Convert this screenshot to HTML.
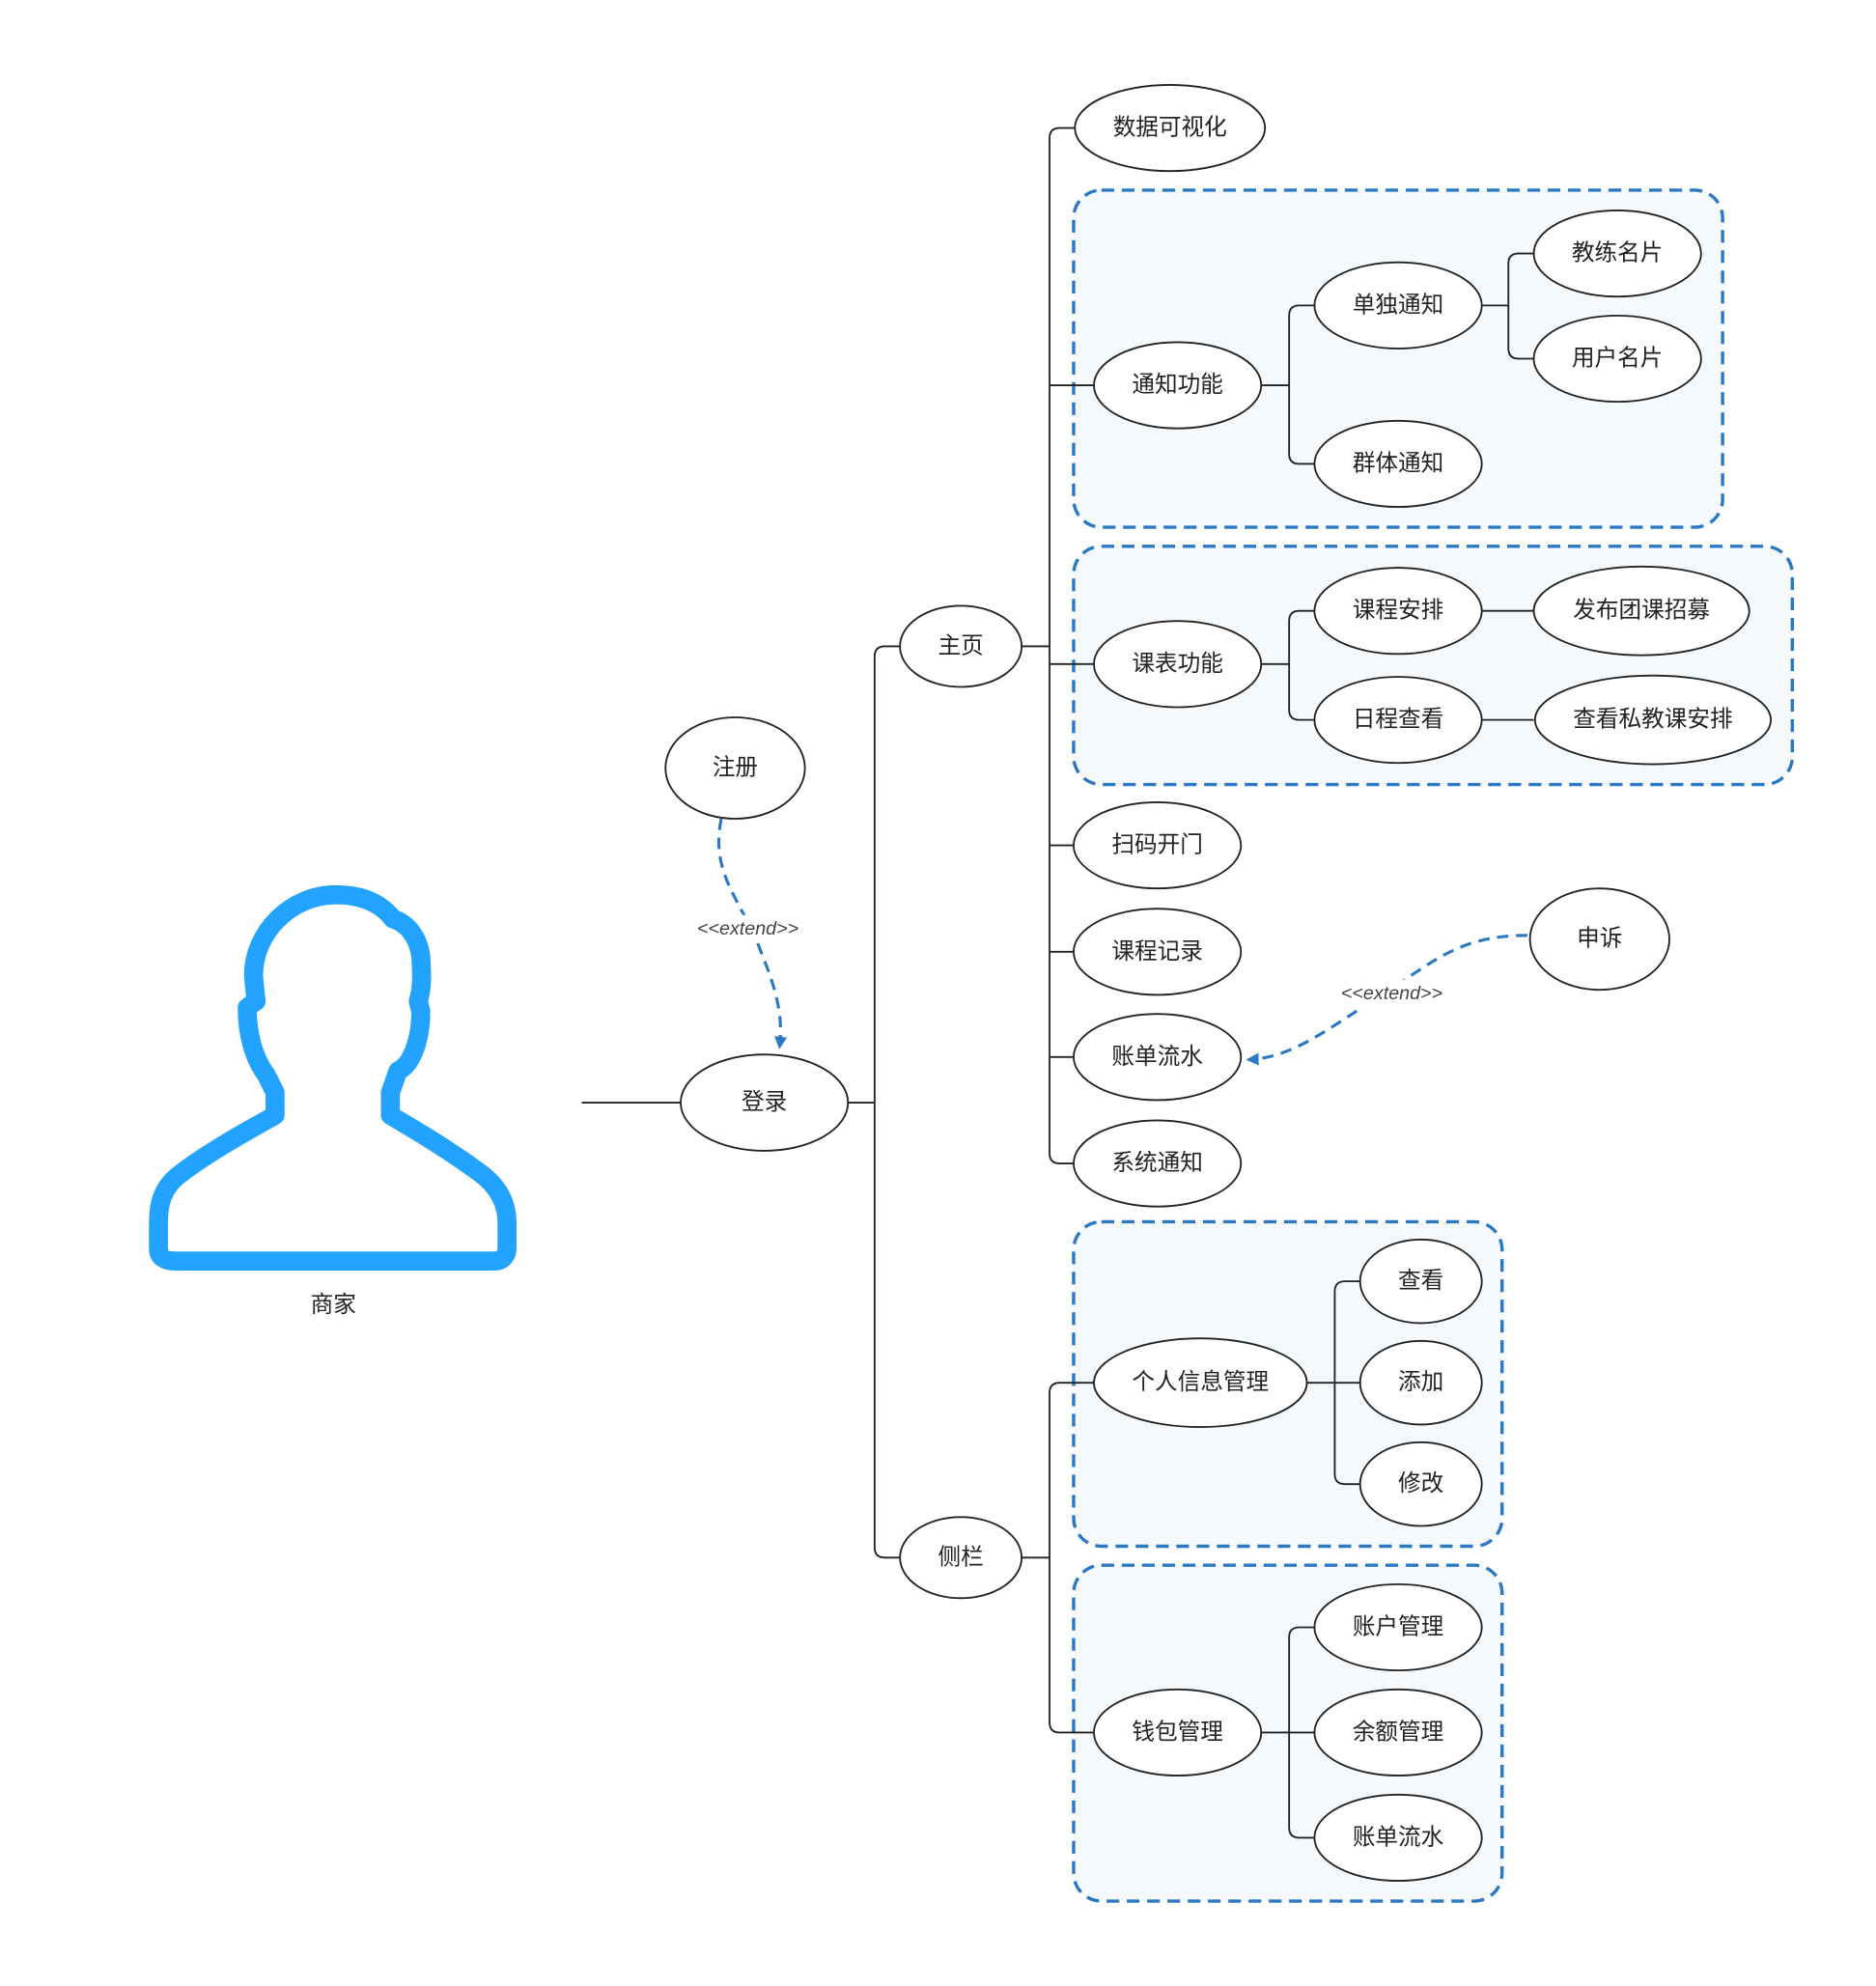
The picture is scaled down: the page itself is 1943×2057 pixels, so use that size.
<!DOCTYPE html>
<html><head><meta charset="utf-8"><style>
html,body{margin:0;padding:0;background:#fff;}
svg{display:block;}
text{font-family:"Liberation Sans","Noto Sans CJK SC",sans-serif;font-size:18px;fill:#222;text-anchor:middle;dominant-baseline:central;}
.e{fill:#fff;stroke:#222;stroke-width:1.4;}
.l{fill:none;stroke:#222;stroke-width:1.4;}
.b{fill:#f5f9fc;stroke:#2b78c5;stroke-width:2.6;stroke-dasharray:10 6;}
.x{fill:none;stroke:#2b78c5;stroke-width:2.4;stroke-dasharray:9 6;}
.it{font-style:italic;font-size:15px;fill:#444;}
</style></head><body>
<svg width="1943" height="2057" viewBox="0 0 1480 1567" preserveAspectRatio="none" xmlns="http://www.w3.org/2000/svg">
<defs><marker id="a" markerWidth="10" markerHeight="10" refX="8" refY="5" orient="auto" markerUnits="userSpaceOnUse"><path d="M0,0 L10,5 L0,10 Z" fill="#2b78c5"/></marker></defs>
<rect class="b" x="847" y="150" width="512" height="266" rx="22"/>
<rect class="b" x="847" y="431" width="567" height="188" rx="22"/>
<rect class="b" x="847" y="964" width="338" height="256" rx="22"/>
<rect class="b" x="847" y="1235" width="338" height="265" rx="22"/>
<path d="M265 706 C230 706 200 735 200 770 L202 790 L195 795 C195 815 200 835 210 848 L217 862 L217 880 C190 895 160 912 140 928 C128 938 125 950 125 965 L125 985 C125 992 130 995 138 995 L390 995 C397 995 400 990 400 985 L400 965 C400 948 392 935 378 925 C355 908 330 893 308 880 L308 862 L314 845 C325 840 332 820 332 798 L330 790 C333 780 333 770 332 755 C330 738 320 728 310 725 C300 712 285 706 265 706 Z" fill="none" stroke="#22a3ff" stroke-width="15" stroke-linejoin="round"/>
<text x="263" y="1030">商家</text>
<path class="l" d="M459 870 H537 M669 870 H690 M710 510 H698 Q690 510 690 518 V1221 Q690 1229 698 1229 H710"/>
<path class="l" d="M806 510 H828 M848 101 H836 Q828 101 828 109 V910 Q828 918 836 918 H848 M828 304 H863 M828 524 H863 M828 667 H848 M828 751 H848 M828 834 H848"/>
<path class="l" d="M995 304 H1017 M1037 241 H1025 Q1017 241 1017 249 V358 Q1017 366 1025 366 H1037"/>
<path class="l" d="M1169 241 H1190 M1210 200 H1198 Q1190 200 1190 208 V275 Q1190 283 1198 283 H1210"/>
<path class="l" d="M995 524 H1017 M1037 482 H1025 Q1017 482 1017 490 V560 Q1017 568 1025 568 H1037 M1169 482 H1210 M1169 568 H1210"/>
<path class="l" d="M806 1229 H828 M863 1091 H836 Q828 1091 828 1099 V1359 Q828 1367 836 1367 H863"/>
<path class="l" d="M1031 1091 H1073 M1073 1011 H1061 Q1053 1011 1053 1019 V1163 Q1053 1171 1061 1171 H1073"/>
<path class="l" d="M995 1367 H1037 M1037 1284 H1025 Q1017 1284 1017 1292 V1442 Q1017 1450 1025 1450 H1037"/>
<path class="x" d="M569 646 C560 690 585 710 600 750 C612 780 618 800 615 826" marker-end="url(#a)"/>
<rect x="540" y="722" width="100" height="22" fill="#fff"/>
<text class="it" x="590" y="733">&lt;&lt;extend&gt;&gt;</text>
<path class="x" d="M1205 738 C1150 738 1130 760 1090 785 C1050 810 1020 835 985 836" marker-end="url(#a)"/>
<rect x="1048" y="773" width="100" height="22" fill="#fff"/>
<text class="it" x="1098" y="784">&lt;&lt;extend&gt;&gt;</text>
<ellipse class="e" cx="923" cy="101" rx="75" ry="34"/><text x="923" y="101">数据可视化</text>
<ellipse class="e" cx="929" cy="304" rx="66" ry="34"/><text x="929" y="304">通知功能</text>
<ellipse class="e" cx="1103" cy="241" rx="66" ry="34"/><text x="1103" y="241">单独通知</text>
<ellipse class="e" cx="1103" cy="366" rx="66" ry="34"/><text x="1103" y="366">群体通知</text>
<ellipse class="e" cx="1276" cy="200" rx="66" ry="34"/><text x="1276" y="200">教练名片</text>
<ellipse class="e" cx="1276" cy="283" rx="66" ry="34"/><text x="1276" y="283">用户名片</text>
<ellipse class="e" cx="929" cy="524" rx="66" ry="34"/><text x="929" y="524">课表功能</text>
<ellipse class="e" cx="1103" cy="482" rx="66" ry="34"/><text x="1103" y="482">课程安排</text>
<ellipse class="e" cx="1103" cy="568" rx="66" ry="34"/><text x="1103" y="568">日程查看</text>
<ellipse class="e" cx="1295" cy="482" rx="85" ry="35"/><text x="1295" y="482">发布团课招募</text>
<ellipse class="e" cx="1304" cy="568" rx="93" ry="35"/><text x="1304" y="568">查看私教课安排</text>
<ellipse class="e" cx="913" cy="667" rx="66" ry="34"/><text x="913" y="667">扫码开门</text>
<ellipse class="e" cx="913" cy="751" rx="66" ry="34"/><text x="913" y="751">课程记录</text>
<ellipse class="e" cx="913" cy="834" rx="66" ry="34"/><text x="913" y="834">账单流水</text>
<ellipse class="e" cx="913" cy="918" rx="66" ry="34"/><text x="913" y="918">系统通知</text>
<ellipse class="e" cx="758" cy="510" rx="48" ry="32"/><text x="758" y="510">主页</text>
<ellipse class="e" cx="758" cy="1229" rx="48" ry="32"/><text x="758" y="1229">侧栏</text>
<ellipse class="e" cx="603" cy="870" rx="66" ry="38"/><text x="603" y="870">登录</text>
<ellipse class="e" cx="580" cy="606" rx="55" ry="40"/><text x="580" y="606">注册</text>
<ellipse class="e" cx="1262" cy="741" rx="55" ry="40"/><text x="1262" y="741">申诉</text>
<ellipse class="e" cx="947" cy="1091" rx="84" ry="35"/><text x="947" y="1091">个人信息管理</text>
<ellipse class="e" cx="1121" cy="1011" rx="48" ry="33"/><text x="1121" y="1011">查看</text>
<ellipse class="e" cx="1121" cy="1091" rx="48" ry="33"/><text x="1121" y="1091">添加</text>
<ellipse class="e" cx="1121" cy="1171" rx="48" ry="33"/><text x="1121" y="1171">修改</text>
<ellipse class="e" cx="929" cy="1367" rx="66" ry="34"/><text x="929" y="1367">钱包管理</text>
<ellipse class="e" cx="1103" cy="1284" rx="66" ry="34"/><text x="1103" y="1284">账户管理</text>
<ellipse class="e" cx="1103" cy="1367" rx="66" ry="34"/><text x="1103" y="1367">余额管理</text>
<ellipse class="e" cx="1103" cy="1450" rx="66" ry="34"/><text x="1103" y="1450">账单流水</text>
</svg>
</body></html>
